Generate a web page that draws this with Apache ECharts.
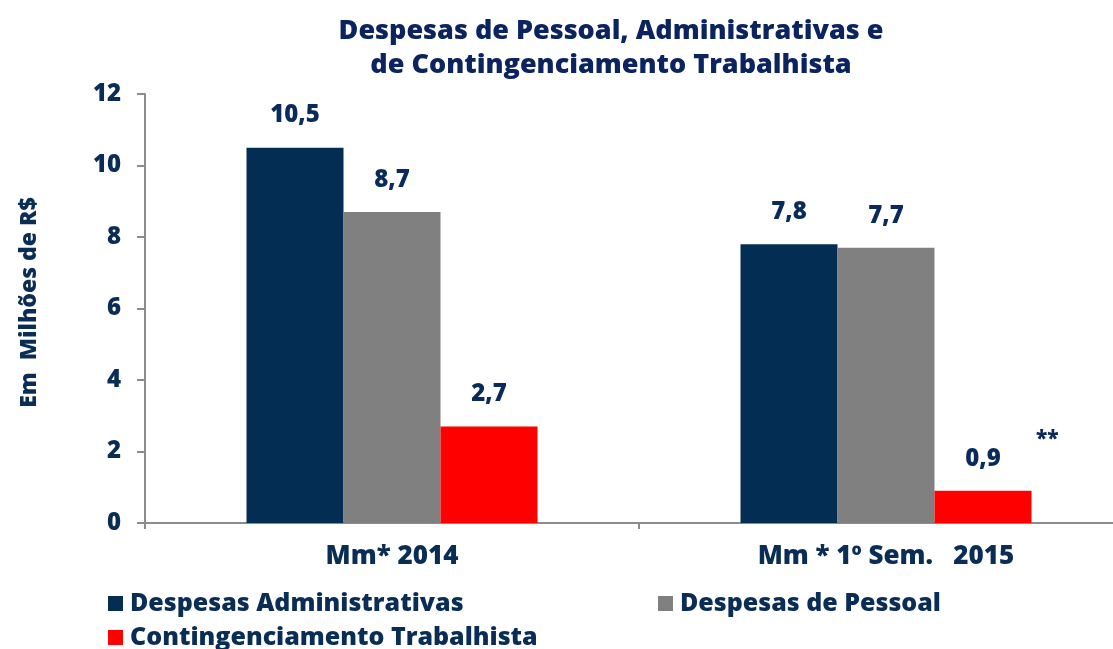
<!DOCTYPE html>
<html>
<head>
<meta charset="utf-8">
<title>Despesas de Pessoal</title>
<script src="https://cdn.jsdelivr.net/npm/echarts@6/dist/echarts.min.js"></script>
<style>
  html, body { margin: 0; padding: 0; background: #fff; }
  #chart { width: 1113px; height: 649px; }
</style>
</head>
<body>
<div id="chart"></div>
<script>
// categorias e valores (em milhões de R$)
const categories = ['Mm* 2014', 'Mm * 1º Sem.   2015']
const despesasAdministrativas = [10.5, 7.8]
const despesasPessoal = [8.7, 7.7]
const contingenciamento = [2.7, 0.9]
const yTicks = [0, 2, 4, 6, 8, 10, 12]

const navy = '#032d52'
const textColor = '#0a2d55'
const font = '"Open Sans", "Noto Sans", sans-serif'
const heavy = 800

const chart = echarts.init(document.getElementById('chart'))

const labelCfg = {
  show: true,
  position: 'top',
  distance: 20,
  color: '#0b2a5c',
  fontSize: 24,
  fontWeight: heavy,
  fontFamily: font,
  formatter: p => p.value.toFixed(1).replace('.', ',')
}

function legendAt(name, left, top) {
  return {
    data: [name],
    left: left,
    top: top,
    icon: 'rect',
    itemWidth: 15,
    itemHeight: 15,
    itemGap: 0,
    padding: 0,
    textStyle: { color: textColor, fontSize: 25, fontWeight: heavy, fontFamily: font, padding: [0, 0, 0, 2] },
    selectedMode: false
  }
}

const option = {
  animation: false,
  title: {
    text: 'Despesas de Pessoal, Administrativas e\nde Contingenciamento Trabalhista',
    left: 606,
    textAlign: 'center',
    top: 9,
    textStyle: { color: '#0b2460', fontSize: 27, fontWeight: heavy, fontFamily: font, lineHeight: 34 }
  },
  legend: [
    legendAt('Despesas Administrativas', 108, 591),
    legendAt('Despesas de Pessoal', 658, 591),
    legendAt('Contingenciamento Trabalhista', 108, 625)
  ],
  // o eixo continua além da borda direita, como no original
  grid: { left: 145, width: 988, top: 94, bottom: 126, outerBoundsMode: 'none' },
  xAxis: {
    type: 'category',
    data: categories,
    axisLine: { lineStyle: { color: '#8c8c8c', width: 2 } },
    axisTick: { show: true, length: 6, lineStyle: { color: '#8c8c8c', width: 2 } },
    axisLabel: { color: textColor, fontSize: 26, fontWeight: heavy, fontFamily: font, margin: 21 }
  },
  yAxis: {
    type: 'value',
    min: yTicks[0],
    max: yTicks[yTicks.length - 1],
    interval: 2,
    name: 'Em  Milhões de R$',
    nameLocation: 'middle',
    nameGap: 104,
    nameTextStyle: { color: textColor, fontSize: 23, fontWeight: heavy, fontFamily: font, padding: [0, 0, 0, 12] },
    axisLine: { show: true, lineStyle: { color: '#8c8c8c', width: 2 } },
    axisTick: { show: true, length: 8, lineStyle: { color: '#8c8c8c', width: 2 } },
    axisLabel: { color: textColor, fontSize: 24, fontWeight: heavy, fontFamily: font, margin: 24 },
    splitLine: { show: false }
  },
  series: [
    {
      name: 'Despesas Administrativas',
      type: 'bar',
      data: despesasAdministrativas,
      barWidth: 97,
      barGap: '0%',
      itemStyle: { color: navy },
      label: labelCfg
    },
    {
      name: 'Despesas de Pessoal',
      type: 'bar',
      data: despesasPessoal,
      barWidth: 97,
      barGap: '0%',
      itemStyle: { color: '#808080' },
      label: labelCfg
    },
    {
      name: 'Contingenciamento Trabalhista',
      type: 'bar',
      data: contingenciamento,
      barWidth: 97,
      barGap: '0%',
      itemStyle: { color: '#ff0000' },
      label: labelCfg
    }
  ],
  graphic: [
    {
      type: 'text',
      left: 1036,
      top: 429,
      style: { text: '**', fill: '#0b2a5c', fontSize: 21, fontWeight: heavy, fontFamily: font }
    }
  ]
}

chart.setOption(option)
</script>
</body>
</html>
